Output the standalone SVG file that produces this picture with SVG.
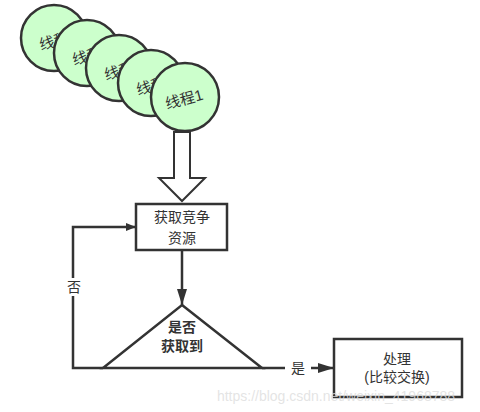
<svg xmlns="http://www.w3.org/2000/svg" width="480" height="412" viewBox="0 0 480 412">
<defs>
<style>
.c{fill:#ccffcc;stroke:#333;stroke-width:2.5}
.t{font-family:"Liberation Sans","Noto Sans CJK SC",sans-serif;font-size:14px;fill:#333;text-anchor:middle;dominant-baseline:central}
.ct{font-size:15px}
.b{font-weight:bold}
.ln{fill:none;stroke:#333;stroke-width:2.5}
.box{fill:#fff;stroke:#333;stroke-width:2.5}
</style>
<marker id="ah" markerWidth="10" markerHeight="8" refX="10" refY="4" orient="auto" markerUnits="userSpaceOnUse">
<path d="M0,0 L10,4 L0,8 Z" fill="#333"/>
</marker>
<marker id="ah2" markerWidth="16" markerHeight="10" refX="16" refY="5" orient="auto" markerUnits="userSpaceOnUse">
<path d="M0,0 L16,5 L0,10 Z" fill="#333"/>
</marker>
</defs>
<rect width="480" height="412" fill="#fff"/>
<g id="thread5"><circle class="c" cx="54" cy="38" r="33"/><text class="t ct" transform="translate(54,41) rotate(-15)">线程</text></g>
<g id="thread4"><circle class="c" cx="87" cy="53" r="33"/><text class="t ct" transform="translate(87,56) rotate(-15)">线程</text></g>
<g id="thread3"><circle class="c" cx="119" cy="68" r="33"/><text class="t ct" transform="translate(119,71) rotate(-15)">线程</text></g>
<g id="thread2"><circle class="c" cx="151" cy="83" r="33"/><text class="t ct" transform="translate(151,86) rotate(-15)">线程</text></g>
<g id="thread1"><circle class="c" cx="185" cy="97" r="34"/><text class="t ct" transform="translate(184,99) rotate(-15)">线程1</text></g>
<g id="connectors">
<path d="M174,132 H190 V178 H205 L182,201 L159,178 H174 Z" fill="#fff" stroke="#333" stroke-width="2"/>
<path class="ln" d="M182,250 V305" marker-end="url(#ah2)"/>
<path class="ln" d="M103,368 H73 V227 H136" marker-end="url(#ah)"/>
<path class="ln" d="M262,368 H285"/>
<path class="ln" d="M311,368 H334" marker-end="url(#ah2)"/>
<rect x="64" y="278" width="20" height="18" fill="#fff"/>
<text class="t" x="74" y="287">否</text>
<text class="t" x="298" y="368">是</text>
</g>
<g id="acquire"><rect class="box" x="136" y="204" width="91" height="46"/><text class="t" x="182" y="217">获取竞争</text><text class="t" x="182" y="238">资源</text></g>
<g id="decision"><path class="box" d="M182,305 L262,368 H103 Z"/><text class="t b" x="182" y="327">是否</text><text class="t b" x="182" y="346">获取到</text></g>
<g id="process"><rect class="box" x="334" y="339" width="128" height="58"/><text class="t" x="397" y="359">处理</text><text class="t" x="397" y="377">(比较交换)</text></g>
<text x="336" y="396" font-family="Liberation Sans,sans-serif" font-size="14" fill="#ddd" fill-opacity="0.8" text-anchor="middle" dominant-baseline="central">https://blog.csdn.net/weixin_41968788</text>
</svg>
